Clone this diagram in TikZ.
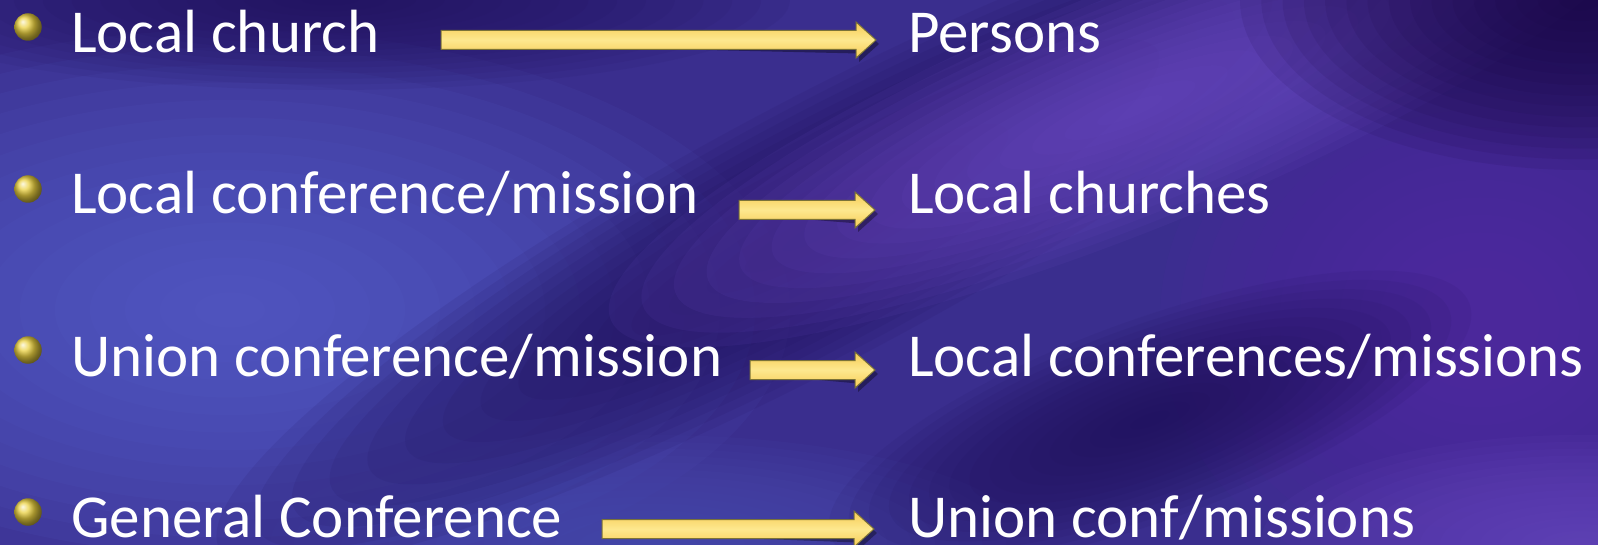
\documentclass[tikz,border=0pt]{standalone}
\usepackage{fontspec}
\setmainfont{Carlito}
\usetikzlibrary{calc,shadings}
\definecolor{bgbase}{HTML}{3A2E8E}
\definecolor{lightblue}{HTML}{5A64D0}
\definecolor{darkband}{HTML}{20105A}
\definecolor{lightpurple}{HTML}{6A4AC2}
\definecolor{cornerdark}{HTML}{1A0644}
\definecolor{rightpurple}{HTML}{5628A6}
\definecolor{bottomblue}{HTML}{4C50B4}
\definecolor{arrowfill}{HTML}{F5D35E}
\definecolor{arrowlight}{HTML}{FDE88E}
\definecolor{arrowedge}{HTML}{7A7238}
\definecolor{gold}{HTML}{EAD040}
% soft glow: concentric translucent ellipses
\newcommand\glow[7]{%
  \begin{scope}[shift={(#2,#3)},rotate=#6]
    \foreach \k in {1,...,16}{%
      \fill[#1,opacity=#7] (0,0) ellipse [x radius={#4*\k/16},y radius={#5*\k/16}];}
  \end{scope}}
\newcommand\fatarrow[2]{%
  \fill[black,opacity=0.35] ($(#1)+(3,4)$) -- ($(#2)+(-17,13.5)$) -- ($(#2)+(-17,22)$) -- ($(#2)+(3,4)$) -- ($(#2)+(-17,-14)$) -- ($(#2)+(-17,-5.5)$) -- ($(#1)+(3,-5.5)$) -- cycle;
  \shade[top color=arrowfill!90!orange,bottom color=arrowfill!90!orange,middle color=arrowlight,draw=arrowedge,line width=1pt]
    ($(#1)+(0,-9.5)$) -- ($(#2)+(-20,-9.5)$) -- ($(#2)+(-20,-18)$) -- (#2) -- ($(#2)+(-20,18)$) -- ($(#2)+(-20,9.5)$) -- ($(#1)+(0,9.5)$) -- cycle;}
\tikzset{
  lbl/.style={anchor=base west,inner sep=0pt,text=white,font=\fontsize{61}{73}\selectfont},
  bullet/.style={circle,inner sep=0pt,minimum size=27.5pt,ball color=gold,draw=none}
}
\begin{document}
\begin{tikzpicture}[x=1pt,y=-1pt]
\useasboundingbox (0,0) rectangle (1598,545);
\fill[bgbase] (0,0) rectangle (1598,545);
\begin{scope}
\clip (0,0) rectangle (1598,545);
\glow{lightblue}{230}{310}{560}{280}{0}{0.09}
\glow{bottomblue}{650}{545}{380}{110}{0}{0.09}
\glow{rightpurple}{1480}{320}{320}{280}{0}{0.09}
\glow{darkband}{820}{230}{680}{130}{28}{0.1}
\glow{lightpurple}{1130}{110}{560}{120}{22}{0.11}
\glow{darkband}{1150}{420}{340}{100}{20}{0.09}
\glow{cornerdark}{1580}{0}{340}{170}{0}{0.1}
\glow{lightpurple}{1580}{545}{320}{110}{0}{0.09}
\glow{darkband}{330}{0}{460}{90}{0}{0.08}
\end{scope}

\node[bullet] (b1) at (28,27) {};
\node[bullet] (b2) at (28,189) {};
\node[bullet] (b3) at (28,350) {};
\node[bullet] (b4) at (28,512) {};

\node[lbl] (l1) at (71,53) {Local church};
\node[lbl] (l2) at (71,214) {Local conference/mission};
\node[lbl] (l3) at (71,376) {Union conference/mission};
\node[lbl] (l4) at (71,537) {General Conference};

\node[lbl] (r1) at (908,53) {Persons};
\node[lbl] (r2) at (908,214) {Local churches};
\node[lbl] (r3) at (908,376) {Local conferences/missions};
\node[lbl] (r4) at (908,537) {Union conf/missions};

\coordinate (s1) at (441,40);  \coordinate (t1) at (876,40);
\coordinate (s2) at (739,210); \coordinate (t2) at (875,210);
\coordinate (s3) at (750,370); \coordinate (t3) at (875,370);
\coordinate (s4) at (602,529); \coordinate (t4) at (874,529);
\fatarrow{s1}{t1}
\fatarrow{s2}{t2}
\fatarrow{s3}{t3}
\fatarrow{s4}{t4}
\end{tikzpicture}
\end{document}
